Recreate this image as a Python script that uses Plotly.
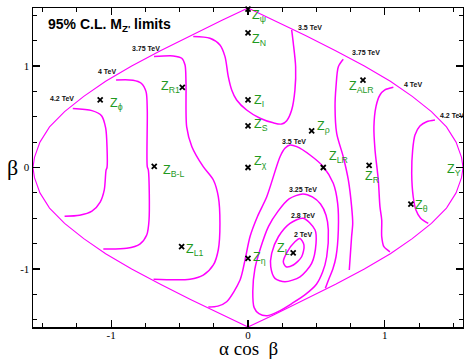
import plotly.graph_objects as go

# ---------------- data ----------------
# outer boundary, upper-right quarter (beta, alpha*cos(beta))
bound_beta = [1.571, 1.45, 1.30, 1.15, 1.00, 0.85, 0.70, 0.55, 0.40, 0.25, 0.10, 0.0]
bound_x = [0.0, 0.19, 0.42, 0.64, 0.85, 1.04, 1.20, 1.34, 1.45, 1.52, 1.56, 1.571]

c42L_x = [-1.28, -1.14, -1.07, -1.04, -1.03, -1.03, -1.037, -1.05, -1.08, -1.14, -1.23, -1.34]
c42L_y = [0.58, 0.56, 0.51, 0.39, 0.20, 0.0, -0.025, -0.22, -0.34, -0.43, -0.47, -0.48]

c40L_x = [-0.964, -0.84, -0.78, -0.745, -0.736, -0.736, -0.728, -0.723, -0.74, -0.79, -0.886, -1.057]
c40L_y = [0.862, 0.86, 0.83, 0.747, 0.566, 0.008, -0.025, -0.517, -0.665, -0.754, -0.796, -0.803]

c375L_x = [-0.687, -0.546, -0.484, -0.46, -0.453, -0.448, -0.41, -0.327, -0.253, -0.217, -0.205,
           -0.217, -0.253, -0.327, -0.424, -0.69]
c375L_y = [1.092, 1.099, 1.076, 1.01, 0.83, 0.40, 0.205, 0.008, -0.123, -0.288, -0.55,
           -0.81, -0.96, -1.06, -1.10, -1.10]

c35T_x = [-0.40, -0.278, -0.205, -0.168, -0.144, -0.119, -0.083, -0.01, 0.088, 0.185, 0.246,
          0.283, 0.319, 0.343, 0.348, 0.331, 0.319]
c35T_y = [1.29, 1.273, 1.207, 1.092, 0.895, 0.764, 0.665, 0.566, 0.485, 0.44, 0.428,
          0.461, 0.566, 0.764, 0.993, 1.224, 1.355]

c375R_x = [0.696, 0.66, 0.643, 0.636, 0.648, 0.696, 0.733, 0.757, 0.765, 0.757, 0.74]
c375R_y = [1.066, 0.993, 0.796, 0.599, 0.337, 0.106, -0.123, -0.386, -0.55, -0.68, -1.01]

c40R_x = [1.062, 1.0, 0.964, 0.935, 0.92, 0.928, 0.952, 0.964, 0.977, 0.977, 0.993, 1.037]
c40R_y = [0.79, 0.764, 0.714, 0.60, 0.40, 0.172, -0.123, -0.386, -0.517, -0.68, -0.78, -0.83]

c42R_x = [1.366, 1.305, 1.256, 1.22, 1.203, 1.196, 1.207, 1.227, 1.261, 1.317]
c42R_y = [0.468, 0.451, 0.409, 0.32, 0.172, -0.057, -0.288, -0.419, -0.50, -0.55]

c35C_x = [-0.29, -0.22, -0.156, -0.058, -0.02, 0.015, 0.07, 0.137, 0.234, 0.27, 0.307, 0.356,
          0.453, 0.55, 0.623, 0.655, 0.66, 0.643, 0.62, 0.59, 0.565]
c35C_y = [-1.375, -1.365, -1.322, -1.108, -0.90, -0.68, -0.48, -0.288, 0.106, 0.189, 0.222, 0.205,
          0.123, 0.008, -0.156, -0.353, -0.616, -0.879, -1.0, -1.1, -1.19]

c325_x = [0.40, 0.47, 0.53, 0.57, 0.587, 0.575, 0.545, 0.50, 0.42, 0.32, 0.22, 0.14, 0.08,
          0.045, 0.035, 0.05, 0.09, 0.15, 0.22, 0.30, 0.40]
c325_y = [-0.26, -0.29, -0.36, -0.47, -0.616, -0.879, -1.03, -1.15, -1.25, -1.34, -1.42, -1.46,
          -1.44, -1.38, -1.22, -1.0, -0.80, -0.58, -0.43, -0.31, -0.26]

c28_x = [0.404, 0.49, 0.497, 0.465, 0.38, 0.27, 0.197, 0.166, 0.173, 0.222, 0.307, 0.404]
c28_y = [-0.50, -0.616, -0.747, -0.944, -1.076, -1.125, -1.092, -0.977, -0.845, -0.682, -0.55, -0.50]

c2_x = [0.38, 0.409, 0.392, 0.331, 0.278, 0.258, 0.287, 0.343, 0.38]
c2_y = [-0.70, -0.764, -0.879, -0.96, -0.977, -0.928, -0.83, -0.731, -0.70]

contour_x = [c42L_x, c40L_x, c375L_x, c35T_x, c375R_x, c40R_x, c42R_x, c35C_x, c325_x, c28_x, c2_x]
contour_y = [c42L_y, c40L_y, c375L_y, c35T_y, c375R_y, c40R_y, c42R_y, c35C_y, c325_y, c28_y, c2_y]

# contour labels
clab_text = ["4.2 TeV", "4 TeV", "3.75 TeV", "3.5 TeV", "3.75 TeV", "4 TeV", "4.2 TeV",
             "3.5 TeV", "3.25 TeV", "2.8 TeV", "2 TeV"]
clab_x = [-1.361, -1.032, -0.747, 0.453, 0.862, 1.207, 1.488, 0.336, 0.404, 0.404, 0.404]
clab_y = [0.682, 0.944, 1.174, 1.381, 1.131, 0.82, 0.517, 0.254, -0.215, -0.468, -0.655]

# models: marker position and label position
model_sub = ["ψ", "N", "I", "S", "χ", "η", "L", "LR", "ρ", "ALR", "R", "Y", "θ", "ϕ", "R1", "B-L", "L1"]
model_x = [0.0, 0.0, 0.0, 0.0, 0.0, 0.0, 0.33, 0.55, 0.465, 0.84, 0.885, 1.571, 1.19, -1.08, -0.48, -0.685, -0.485]
model_y = [1.56, 1.325, 0.665, 0.41, 0.0, -0.895, -0.84, 0.0, 0.36, 0.86, 0.02, 0.0, -0.36, 0.665, 0.79, 0.01, -0.78]
label_x = [0.03, 0.035, 0.044, 0.05, 0.05, 0.04, 0.217, 0.594, 0.506, 0.739, 0.86, 1.459, 1.227, -1.008, -0.63, -0.619, -0.453]
label_y = [1.48, 1.25, 0.65, 0.41, 0.045, -0.90, -0.814, 0.093, 0.389, 0.783, -0.10, -0.034, -0.386, 0.616, 0.783, -0.042, -0.818]

MAG = "#ff00ff"
GREEN = "#1f9a1f"

fig = go.Figure()

# boundary: closed outline built by mirroring the quarter read above
ox, oy = [], []
for xv, bv in zip(bound_x[::-1], bound_beta[::-1]):
    ox.append(-xv); oy.append(bv)
for xv, bv in zip(bound_x[1:], bound_beta[1:]):
    ox.append(xv); oy.append(bv)
for xv, bv in zip(bound_x[::-1][1:], bound_beta[::-1][1:]):
    ox.append(xv); oy.append(-bv)
for xv, bv in zip(bound_x[1:], bound_beta[1:]):
    ox.append(-xv); oy.append(-bv)

fig.add_trace(go.Scatter(x=ox, y=oy, mode="lines", line=dict(color=MAG, width=1.1),
                         hoverinfo="skip", showlegend=False))

for cx, cy in zip(contour_x, contour_y):
    fig.add_trace(go.Scatter(x=cx, y=cy, mode="lines",
                             line=dict(color=MAG, width=1.5, shape="spline", smoothing=0.8),
                             hoverinfo="skip", showlegend=False))

fig.add_trace(go.Scatter(x=model_x, y=model_y, mode="markers",
                         marker=dict(symbol="x-thin", size=5, line=dict(color="black", width=1.8)),
                         cliponaxis=False, hoverinfo="skip", showlegend=False))

annotations = []
for t, x, y in zip(clab_text, clab_x, clab_y):
    annotations.append(dict(x=x, y=y, xref="x", yref="y", text="<b>%s</b>" % t, showarrow=False,
                            font=dict(family="Liberation Sans", size=7, color="#111111"),
                            xanchor="center", yanchor="middle"))
for s, x, y in zip(model_sub, label_x, label_y):
    annotations.append(dict(x=x, y=y, xref="x", yref="y",
                            text="Z<sub>%s</sub>" % s, showarrow=False,
                            font=dict(family="Liberation Sans", size=12.5, color=GREEN),
                            xanchor="left", yanchor="middle", xshift=-2.5, yshift=1))

annotations.append(dict(x=-1.461, y=1.414, xref="x", yref="y",
                        text="<b>95% C.L. M<sub>Z'</sub> limits</b>", showarrow=False,
                        font=dict(family="Liberation Sans", size=14, color="black"),
                        xanchor="left", yanchor="middle", xshift=-2, yshift=-1))
annotations.append(dict(x=-0.047, y=0.5, xref="paper", yref="paper", text="β", showarrow=False,
                        font=dict(family="Liberation Serif", size=22, color="black"),
                        xanchor="center", yanchor="middle"))
annotations.append(dict(x=0.5, y=-0.068, xref="paper", yref="paper", text="α cos  β",
                        showarrow=False,
                        font=dict(family="Liberation Serif", size=19, color="black"),
                        xanchor="center", yanchor="middle"))

axis_common = dict(showgrid=False, zeroline=False, showline=True, linecolor="black",
                   linewidth=1.5, mirror="ticks", ticks="inside", ticklen=7, tickwidth=1.2,
                   tickcolor="black", tickvals=[-1, 0, 1], ticktext=["-1", "0", "1"],
                   automargin=False,
                   tickfont=dict(family="Liberation Serif", size=11, color="black"),
                   minor=dict(dtick=0.25, tick0=0, ticks="inside", ticklen=4, tickwidth=1,
                              tickcolor="black", showgrid=False))

fig.update_layout(
    width=464, height=359,
    margin=dict(l=33, r=1, t=8, b=32, pad=0),
    paper_bgcolor="white", plot_bgcolor="white",
    xaxis=dict(range=[-1.5708, 1.5708], ticklabelstandoff=-3, **axis_common),
    yaxis=dict(range=[-1.5708, 1.5708], **axis_common),
    annotations=annotations,
    showlegend=False,
)

# remove the default 8px page margin so the figure fills the window exactly
fig.write_html("out.html",
               config={"displayModeBar": False, "staticPlot": True},
               post_script="document.body.style.margin='0';document.body.style.overflow='hidden';")
